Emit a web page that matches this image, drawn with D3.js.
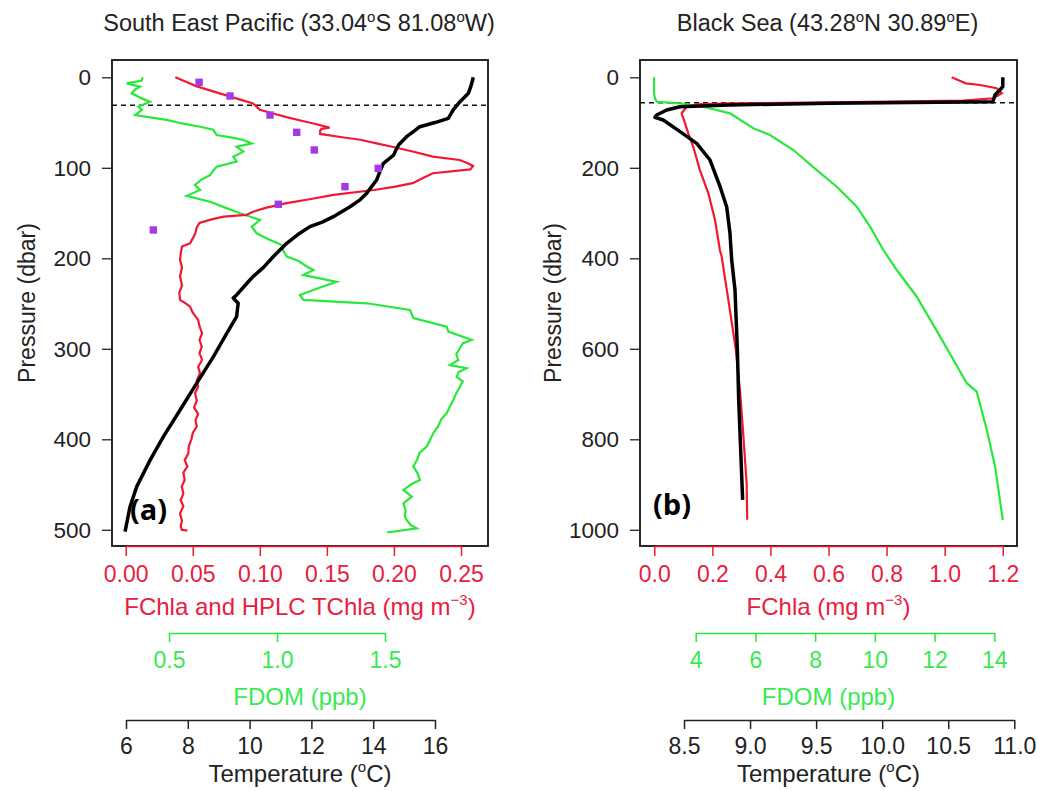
<!DOCTYPE html>
<html><head><meta charset="utf-8">
<script src="https://cdn.jsdelivr.net/npm/d3@7"></script>
<style>
body{margin:0;background:#fff;}
text{font-family:"Liberation Sans",Arial,sans-serif;}
</style></head>
<body><svg id="c" width="1039" height="791"></svg>
<script>
// ---------- Panel (a): South East Pacific ----------
// [pressure (dbar), value]
const aChla = [[0,0.037],[5,0.045],[10,0.053],[15,0.064],[20,0.075],[25,0.086],[29,0.095],[33,0.098],[36,0.100],[40,0.110],[44,0.120],[48,0.131],[51,0.140],[55.6,0.152],[57,0.146],[59,0.145],[62.6,0.145],[66,0.160],[69,0.175],[73,0.187],[77,0.1995],[82,0.214],[87.7,0.229],[91.4,0.249],[95,0.255],[98,0.259],[101.7,0.257],[106,0.229],[111,0.222],[117,0.214],[121,0.200],[124.5,0.185],[130,0.155],[135,0.136],[139,0.120],[144,0.105],[148.5,0.095],[152,0.090],[154,0.073],[157,0.064],[161,0.055],[166,0.053],[172,0.052],[178,0.050],[183.4,0.048],[187,0.042],[195,0.041],[202,0.0405],[210,0.042],[220,0.0405],[230,0.042],[238,0.040],[246,0.0405],[250,0.045],[253.5,0.048],[260,0.050],[268,0.054],[275,0.055],[283,0.057],[290,0.055],[297.7,0.0567],[305,0.055],[312,0.057],[320,0.054],[327,0.0554],[335,0.053],[342,0.054],[349,0.0517],[357,0.053],[365,0.051],[372,0.054],[379,0.052],[386,0.053],[393,0.050],[400,0.049],[408,0.047],[415.5,0.0467],[423,0.044],[430,0.046],[437,0.043],[445,0.044],[452,0.0418],[460,0.043],[467,0.041],[474,0.043],[482,0.0405],[490,0.042],[496,0.041],[500,0.0418],[501,0.046]];
const aFdom = [[0,0.378],[3.7,0.374],[6.7,0.304],[10.3,0.366],[14,0.340],[17.7,0.327],[23.3,0.374],[27,0.412],[32.5,0.358],[36,0.374],[41.7,0.343],[47,0.489],[51,0.560],[54.6,0.644],[58,0.705],[63.8,0.721],[67,0.800],[69.3,0.844],[73,0.883],[76.7,0.813],[82.2,0.844],[87.7,0.798],[93,0.813],[98.8,0.721],[103,0.705],[108,0.690],[113,0.650],[119,0.620],[124.5,0.644],[131,0.582],[137.5,0.690],[144,0.760],[150.3,0.829],[157.7,0.921],[165,0.883],[172.4,0.906],[179,0.960],[185.3,1.022],[192,1.030],[198,1.045],[203,1.100],[209,1.138],[213,1.169],[218.5,1.122],[226,1.276],[233,1.190],[240.5,1.106],[246,1.122],[249.7,1.415],[257,1.616],[266,1.631],[275.6,1.786],[281,1.793],[290,1.901],[294,1.860],[299.4,1.847],[306,1.830],[312.4,1.839],[318,1.801],[321.5,1.878],[326,1.840],[331,1.832],[336,1.860],[342,1.847],[349,1.830],[356.6,1.816],[364,1.800],[371,1.786],[378,1.760],[386,1.745],[393,1.724],[400,1.710],[408,1.693],[415,1.660],[422,1.650],[430,1.631],[437,1.650],[445,1.662],[450,1.620],[456,1.585],[463.4,1.624],[470.7,1.585],[478,1.595],[485,1.592],[489,1.600],[495,1.620],[498.4,1.647],[503,1.509]];
const aTemp = [[0,17.24],[9,17.17],[17.7,17.08],[27,16.81],[36,16.59],[45.3,16.43],[50,16.00],[54.6,15.51],[60,15.30],[65.6,15.08],[74.8,14.82],[80,14.74],[86,14.66],[95,14.33],[104,14.22],[113.5,14.11],[128,13.79],[136,13.55],[143,13.25],[154,12.71],[160,12.35],[165,11.95],[174,11.55],[183.4,11.20],[198,10.77],[210,10.45],[220,10.12],[224,10.01],[232,9.80],[240.5,9.58],[244,9.47],[249.7,9.63],[264.5,9.58],[283,9.26],[308.7,8.83],[338,8.29],[367.6,7.75],[397,7.21],[423,6.78],[452,6.35],[474.5,6.13],[502,5.97]];
const aHplc = [[5.5,0.0547],[20.7,0.0778],[41.7,0.1076],[60.8,0.1275],[80.3,0.1406],[100.6,0.1883],[120.9,0.1635],[140.3,0.1138],[168.7,0.0206]];
const aMld = 31;

// ---------- Panel (b): Black Sea ----------
const bChla = [[0,1.024],[7,1.050],[13.3,1.073],[17,1.122],[24.3,1.179],[35.4,1.197],[46.4,1.168],[51.7,1.064],[55.3,0.605],[57.5,0.261],[59.7,0.146],[65,0.112],[79.6,0.094],[101.7,0.106],[123.8,0.117],[153,0.134],[205,0.157],[256,0.186],[315,0.209],[381.7,0.226],[396,0.232],[492,0.255],[602.7,0.281],[691,0.295],[794,0.307],[897,0.318],[978,0.320]];
const bFdom = [[0,2.603],[35.4,2.603],[46.4,2.637],[54,2.693],[57.5,3.474],[65,4.255],[79.6,5.149],[112.7,5.93],[127.5,6.489],[160.7,7.27],[205,8.054],[241.8,8.724],[286,9.394],[330,9.84],[381.7,10.285],[425.9,10.734],[484.9,11.404],[573,12.185],[676,13.08],[694.8,13.41],[779.4,13.75],[860.5,14.027],[978.3,14.285]];
const bTemp = [[0,10.913],[20.6,10.913],[28,10.89],[39,10.854],[54,10.837],[57.5,9.605],[61,8.848],[65,8.47],[72.3,8.369],[83.3,8.293],[88.4,8.28],[94.4,8.343],[120,8.47],[146,8.596],[182.8,8.697],[241.8,8.773],[286,8.823],[344.8,8.848],[403.8,8.861],[470,8.886],[602.7,8.904],[713,8.914],[823.6,8.929],[934,8.944]];
const bMld = 56;

// tick values
const aPresTicks = [0,100,200,300,400,500];
const aChlTicks = [0,0.05,0.10,0.15,0.20,0.25];
const aFdomTicks = [0.5,1.0,1.5];
const aTempTicks = [6,8,10,12,14,16];
const bPresTicks = [0,200,400,600,800,1000];
const bChlTicks = [0,0.2,0.4,0.6,0.8,1.0,1.2];
const bFdomTicks = [4,6,8,10,12,14];
const bTempTicks = [8.5,9.0,9.5,10.0,10.5,11.0];

const RED = "#f01832", RED_T = "#e8203f", GREEN = "#28e83c", GREEN_T = "#3ae852", BLACK = "#000";
const svg = d3.select("#c");

// parts: [text, isSuperscript]
function richText(t, parts, supSize, shift){
  let raised = false;
  parts.forEach(p => {
    const ts = t.append("tspan").text(p[0]);
    if (p[1] && !raised) { ts.attr("dy", -shift).style("font-size", supSize + "px"); raised = true; }
    else if (p[1]) { ts.style("font-size", supSize + "px"); }
    else if (!p[1] && raised) { ts.attr("dy", shift); raised = false; }
  });
}

function drawPanel(o){
  const y = d3.scaleLinear().domain(o.pDom).range([77.3, 529.8]);
  const xC = d3.scaleLinear().domain(o.cDom).range(o.cRange);
  const xF = d3.scaleLinear().domain(o.fDom).range(o.fRange);
  const xT = d3.scaleLinear().domain(o.tDom).range(o.tRange);
  const B = o.box;

  // title
  const tt = svg.append("text").attr("x", (B[0]+B[1])/2 - 1).attr("y", 31).attr("text-anchor","middle")
    .style("font-size","23.5px").attr("fill","#222");
  richText(tt, o.title, 15, 9);

  // y axis
  const ya = svg.append("g").attr("transform",`translate(${B[0]},0)`)
    .call(d3.axisLeft(y).tickValues(o.pTicks).tickFormat(d3.format("d")).tickSize(10).tickSizeOuter(0));
  ya.select(".domain").remove();
  ya.selectAll(".tick line").attr("stroke","#222").attr("stroke-width",1.3);
  ya.selectAll(".tick text").attr("x",-21).attr("fill","#222").style("font-size","22.5px").style("font-family","'Liberation Sans',Arial,sans-serif");
  svg.append("text").attr("transform",`translate(${o.ylabX},303) rotate(-90)`).attr("text-anchor","middle")
    .attr("dy","0.35em").style("font-size","23px").attr("fill","#222").text("Pressure (dbar)");

  function bAxis(scale, yy, ticks, fmt, color, tcolor, tick, labY){
    const g = svg.append("g").attr("transform",`translate(0,${yy})`)
      .call(d3.axisBottom(scale).tickValues(ticks).tickFormat(fmt).tickSize(tick).tickSizeOuter(0));
    g.select(".domain").attr("stroke",color).attr("stroke-width",1.5);
    g.selectAll(".tick line").attr("stroke",color).attr("stroke-width",1.5);
    g.selectAll(".tick text").attr("y", labY-yy).attr("dy","0.35em").attr("fill",tcolor)
      .style("font-size","23px").style("font-family","'Liberation Sans',Arial,sans-serif");
  }
  function axTitle(yy, color, parts){
    const t = svg.append("text").attr("x",(B[0]+B[1])/2).attr("y",yy + 8).attr("text-anchor","middle")
      .attr("fill",color).style("font-size","24px");
    richText(t, parts, 15, 10);
  }

  // box
  svg.append("rect").attr("x",B[0]).attr("y",B[2]).attr("width",B[1]-B[0]).attr("height",B[3]-B[2])
    .attr("fill","none").attr("stroke","#111").attr("stroke-width",1.8);

  bAxis(xC, B[3], o.cTicks, o.cFmt, RED, RED_T, 10, 574);
  axTitle(607, RED_T, o.cTitle);
  bAxis(xF, 633, o.fTicks, o.fFmt, GREEN, GREEN_T, 9, 660);
  axTitle(697, GREEN_T, [["FDOM (ppb)"]]);
  bAxis(xT, 720, o.tTicks, o.tFmt, "#222", "#222", 9, 746);
  axTitle(774, "#222", [["Temperature ("],["o",1],["C)"]]);

  // dashed mixed layer line
  svg.append("line").attr("x1",B[0]).attr("x2",B[1]).attr("y1",y(o.mld)).attr("y2",y(o.mld))
    .attr("stroke","#111").attr("stroke-width",1.5).attr("stroke-dasharray","5,4");

  const line = xs => d3.line().x(d => xs(d[1])).y(d => y(d[0]));
  const series = {
    fdom: () => svg.append("path").datum(o.fdom).attr("d", line(xF)).attr("fill","none").attr("stroke",GREEN).attr("stroke-width",2.2),
    chl: () => svg.append("path").datum(o.chl).attr("d", line(xC)).attr("fill","none").attr("stroke",RED).attr("stroke-width",2.2),
    temp: () => svg.append("path").datum(o.temp).attr("d", line(xT)).attr("fill","none").attr("stroke",BLACK).attr("stroke-width",3.5).attr("stroke-linejoin","round")
  };
  o.order.forEach(k => series[k]());

  if (o.hplc) {
    svg.selectAll(null).data(o.hplc).enter().append("rect")
      .attr("x", d => xC(d[1]) - 3.7).attr("y", d => y(d[0]) - 3.7)
      .attr("width",7.4).attr("height",7.4).attr("fill","#a33ae6");
  }

  svg.append("text").attr("x", o.lab[0]).attr("y", o.lab[1]).attr("dy","0.35em")
    .style("font-family","'Open Sans','DejaVu Sans',sans-serif").style("font-weight","bold").style("font-size","29px")
    .attr("fill","#000").text(o.lab[2]);
}

drawPanel({
  box:[112,488,60,546], pDom:[0,500], pTicks:aPresTicks, ylabX:27,
  title:[["South East Pacific (33.04"],["o",1],["S 81.08"],["o",1],["W)"]],
  cDom:[0,0.25], cRange:[125.7,461], cTicks:aChlTicks, cFmt:d3.format(".2f"),
  cTitle:[["FChla and HPLC TChla (mg m"],["\u22123",1],[")"]],
  fDom:[0.5,1.5], fRange:[169,385], fTicks:aFdomTicks, fFmt:d3.format(".1f"),
  tDom:[6,16], tRange:[126,435], tTicks:aTempTicks, tFmt:d3.format("d"),
  chl:aChla, fdom:aFdom, temp:aTemp, hplc:aHplc, mld:aMld, order:["fdom","chl","temp"],
  lab:[130,510,"(a)"]
});
drawPanel({
  box:[640,1017,60,546], pDom:[0,1000], pTicks:bPresTicks, ylabX:553,
  title:[["Black Sea (43.28"],["o",1],["N 30.89"],["o",1],["E)"]],
  cDom:[0,1.2], cRange:[654.3,1002.7], cTicks:bChlTicks, cFmt:d3.format(".1f"),
  cTitle:[["FChla (mg m"],["\u22123",1],[")"]],
  fDom:[4,14], fRange:[695.7,994.3], fTicks:bFdomTicks, fFmt:d3.format("d"),
  tDom:[8.5,11], tRange:[684,1014.3], tTicks:bTempTicks, tFmt:d3.format(".1f"),
  chl:bChla, fdom:bFdom, temp:bTemp, hplc:null, mld:bMld, order:["fdom","chl","temp"],
  lab:[653,505,"(b)"]
});
</script></body></html>
